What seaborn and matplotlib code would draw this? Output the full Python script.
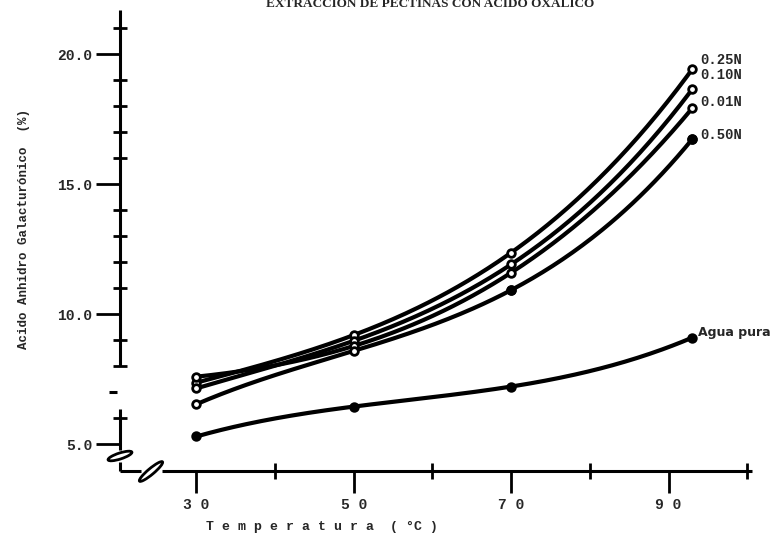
import numpy as np
import pandas as pd
import matplotlib
matplotlib.use("Agg")
import matplotlib.pyplot as plt
import seaborn as sns
from matplotlib.patches import Ellipse
from matplotlib.transforms import Affine2D

# Temperature of extraction (deg C)
temperatura = [30, 50, 70, 93]

# Anhydrogalacturonic acid (%) for each oxalic acid concentration
acido_025 = [7.37, 9.20, 12.37, 19.42]
acido_010 = [7.15, 8.98, 11.92, 18.65]
acido_001 = [7.60, 8.78, 11.60, 17.92]
acido_050 = [6.54, 8.59, 10.93, 16.73]
agua_pura = [5.30, 6.45, 7.22, 9.10]

series_names = ["0.25N", "0.10N", "0.01N", "0.50N", "Agua pura"]
series_values = [acido_025, acido_010, acido_001, acido_050, agua_pura]

x_major = [30, 50, 70, 90]
x_major_labels = ["3 0", "5 0", "7 0", "9 0"]
x_minor = [40, 60, 80, 100]
y_major = [5, 10, 15, 20]
y_major_labels = ["5.0", "10.0", "15.0", "20.0"]
y_minor = [6, 8, 9, 11, 12, 13, 14, 16, 17, 18, 19, 21]

W, H = 781, 543
PX = 72 / 100  # points per pixel at 100 dpi
sns.set_style("white")
plt.rcParams["font.family"] = ["Liberation Mono", "DejaVu Sans"]

fig = plt.figure(figsize=(W / 100, H / 100), dpi=100)
ax_left, ax_right, ax_top, ax_bottom = 120, 752, 10, 471
ax = fig.add_axes([ax_left / W, 1 - ax_bottom / H,
                   (ax_right - ax_left) / W, (ax_bottom - ax_top) / H])
xmin, xmax = 20.3, 100.6
ymin, ymax = 3.973, 21.70
ax.set_xlim(xmin, xmax)
ax.set_ylim(ymin, ymax)

# smooth curves through the measured points
rows = []
xs = np.linspace(temperatura[0], temperatura[-1], 200)
for name, vals in zip(series_names, series_values):
    coef = np.polyfit(temperatura, vals, len(vals) - 1)
    for xv, yv in zip(xs, np.polyval(coef, xs)):
        rows.append({"T": xv, "v": yv, "serie": name})
curves = pd.DataFrame(rows)
sns.lineplot(data=curves, x="T", y="v", hue="serie",
             palette={n: "black" for n in series_names},
             linewidth=3.0, legend=False, estimator=None, sort=False, ax=ax)
ax.set_xlabel("")
ax.set_ylabel("")

# measured points
for name, vals in zip(series_names, series_values):
    filled = name == "Agua pura"
    ax.plot(temperatura, vals, ls="none", marker="o", ms=5.5,
            mfc="black" if filled else "white", mec="black", mew=2.0,
            zorder=5, clip_on=False)
ax.plot(temperatura[2:], acido_050[2:], ls="none", marker="o", ms=5.5,
        mfc="black", mec="black", mew=2.0, zorder=6)

# series labels at the right end of each curve
label_pos = {"0.25N": 19.78, "0.10N": 19.2, "0.01N": 18.18,
             "0.50N": 16.9}
for name, yv in label_pos.items():
    ax.text(94.0, yv, name, ha="left", va="center", fontsize=10,
            fontweight="bold", family=["Liberation Mono"])
ax.text(93.8, 9.28, "Agua pura", ha="left", va="center", fontsize=9,
        fontweight="bold", family=["DejaVu Sans"])

# ticks
ax.set_xticks(x_major)
ax.set_xticklabels(x_major_labels, fontsize=10.5, fontweight="bold")
ax.set_xticks(x_minor, minor=True)
ax.set_yticks(y_major)
ax.set_yticklabels(y_major_labels, fontsize=10.5, fontweight="bold")
ax.set_yticks(y_minor, minor=True)
ax.tick_params(which="both", bottom=True, left=True, color="black",
               width=2.0)
ax.tick_params(axis="x", which="major", direction="out", length=22 * PX,
               pad=5 * PX)
ax.tick_params(axis="x", which="minor", direction="inout", length=16 * PX)
ax.tick_params(axis="y", which="major", direction="out", length=24 * PX,
               pad=4 * PX)
ax.tick_params(axis="y", which="minor", direction="inout", length=14 * PX)

# hand-drawn looking axes with breaks
for s in ax.spines.values():
    s.set_visible(False)
axis_kw = dict(color="black", lw=2.2, clip_on=False, solid_capstyle="butt")
for y0, y1 in [(ymax, 8.0), (6.35, 4.78), (4.32, ymin)]:
    ax.plot([xmin, xmin], [y0, y1], **axis_kw)
ax.plot([18.9, 19.9], [7.0, 7.0], **axis_kw)
for x0, x1 in [(xmin, 22.95), (25.6, xmax)]:
    ax.plot([x0, x1], [ymin, ymin], **axis_kw)

pix = Affine2D().scale(1, -1).translate(0, H)
fig.add_artist(Ellipse((120, 456), 25, 6, angle=-18, transform=pix,
                       fc="white", ec="black", lw=2))
fig.add_artist(Ellipse((151, 471.5), 30, 6, angle=-40, transform=pix,
                       fc="white", ec="black", lw=2))

# titles
fig.text(430 / W, 1 - 4 / H, "EXTRACCION DE PECTINAS CON ACIDO OXALICO",
         ha="center", va="center", fontsize=9.5, fontweight="bold",
         family=["Liberation Serif"])
fig.text(24 / W, 1 - 229 / H, "Acido Anhidro Galacturónico  (%)",
         rotation=90, ha="center", va="center", fontsize=9,
         fontweight="bold")
fig.text(322 / W, 1 - 527 / H, "T e m p e r a t u r a  ( °C )",
         ha="center", va="center", fontsize=9.5, fontweight="bold")

fig.savefig("out.png", dpi=100)
